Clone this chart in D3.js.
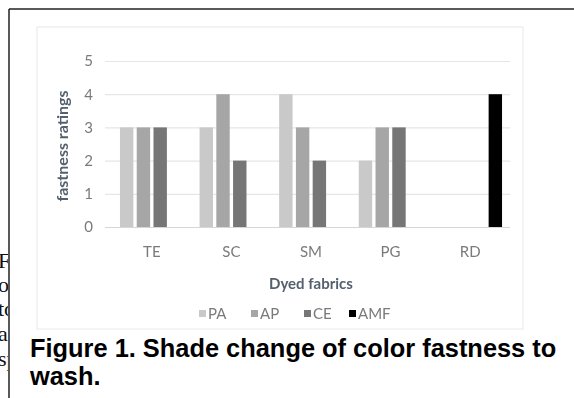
<!DOCTYPE html>
<html>
<head>
<meta charset="utf-8">
<script src="https://cdn.jsdelivr.net/npm/d3@7"></script>
<style>
  html, body { margin: 0; padding: 0; background: #fff; }
  svg { display: block; }
</style>
</head>
<body>
<svg id="fig" width="574" height="398"></svg>
<script>
// Dyed fabrics and the wash fastness rating of each finish
const fabrics = ["TE", "SC", "SM", "PG", "RD"];
const finishes = ["PA", "AP", "CE", "AMF"];
const PA  = [3, 3, 4, 2, 0];
const AP  = [3, 4, 3, 3, 0];
const CE  = [3, 2, 2, 3, 0];
const AMF = [0, 0, 0, 0, 4];
const yTicks = [0, 1, 2, 3, 4, 5];
const finishColors = ["#c9c9c9", "#a6a6a6", "#767676", "#000000"];
const bodyLines = ["F", "o", "to", "a", "sp"];
const captionLines = ["Figure 1. Shade change of color fastness to", "wash."];

const series = [PA, AP, CE, AMF];
const rows = fabrics.map((f, i) => ({ fabric: f, values: finishes.map((s, j) => ({ key: s, value: series[j][i] })) }));

const svg = d3.select("#fig");
const chartFont = "Lato, 'Open Sans', sans-serif";

// soft edge for the embedded chart image
const defs = svg.append("defs");
defs.append("filter").attr("id", "soft")
  .attr("x", "-5%").attr("y", "-5%").attr("width", "110%").attr("height", "110%")
  .append("feGaussianBlur").attr("stdDeviation", 0.6);
defs.append("clipPath").attr("id", "leftcol")
  .append("rect").attr("x", 0).attr("y", 0).attr("width", 8).attr("height", 398);

// page frame
svg.append("line").attr("x1", 9).attr("x2", 574).attr("y1", 9).attr("y2", 9)
  .attr("stroke", "#222").attr("stroke-width", 1.5);
svg.append("line").attr("x1", 9).attr("x2", 9).attr("y1", 9).attr("y2", 398)
  .attr("stroke", "#222").attr("stroke-width", 1.5);

// neighbouring body text, cut by the column edge
const bodyY = [268, 292, 316, 341, 366];
svg.append("g").attr("clip-path", "url(#leftcol)")
  .selectAll("text").data(bodyLines).join("text")
  .attr("x", -2).attr("y", (d, i) => bodyY[i])
  .attr("font-family", "'Liberation Serif', 'DejaVu Serif', serif")
  .attr("font-size", 22).attr("fill", "#111")
  .text(d => d);

const chart = svg.append("g").attr("filter", "url(#soft)");

// chart area outline
chart.append("rect").attr("x", 37).attr("y", 27).attr("width", 486).attr("height", 302)
  .attr("fill", "none").attr("stroke", "#f0f0f0").attr("stroke-width", 1.5);

const x0 = d3.scaleBand().domain(fabrics).range([112, 510]).paddingInner(0.2).paddingOuter(0.1);
const x1 = d3.scaleBand().domain(finishes).range([0, x0.bandwidth()]).paddingInner(0.2);
const y = d3.scaleLinear().domain([0, 5]).range([227, 61]);
const color = d3.scaleOrdinal().domain(finishes).range(finishColors);

// gridlines and value labels
const yAxis = d3.axisLeft(y).tickValues(yTicks).tickFormat(d3.format("d"))
  .tickSize(-(510 - 105)).tickPadding(12);
const gy = chart.append("g").attr("transform", "translate(105,0)").call(yAxis);
gy.select(".domain").remove();
gy.selectAll(".tick line").attr("stroke", d => d === 0 ? "#d6d6d6" : "#e6e6e6").attr("stroke-width", 1.2);
gy.selectAll(".tick text")
  .attr("font-family", chartFont).attr("font-size", 15).attr("fill", "#7a7a7a");

// bars
chart.append("g").selectAll("g").data(rows).join("g")
  .attr("transform", d => `translate(${x0(d.fabric)},0)`)
  .selectAll("rect").data(d => d.values.filter(v => v.value > 0)).join("rect")
  .attr("x", d => x1(d.key))
  .attr("width", x1.bandwidth())
  .attr("y", d => y(d.value))
  .attr("height", d => y(0) - y(d.value))
  .attr("fill", d => color(d.key));

// category axis
const xAxis = d3.axisBottom(x0).tickSize(0).tickPadding(19);
const gx = chart.append("g").attr("transform", "translate(0,227)").call(xAxis);
gx.select(".domain").remove();
gx.selectAll(".tick text")
  .attr("font-family", chartFont).attr("font-size", 15).attr("fill", "#7a7a7a");

// axis titles
chart.append("text")
  .attr("transform", `translate(68,${(y(0) + y(5)) / 2 + 2}) rotate(-90)`)
  .attr("text-anchor", "middle")
  .attr("font-family", chartFont).attr("font-size", 16).attr("font-weight", 700)
  .attr("fill", "#55606e").text("fastness ratings");
chart.append("text")
  .attr("x", (x0.range()[0] + x0.range()[1]) / 2).attr("y", 289)
  .attr("text-anchor", "middle")
  .attr("font-family", chartFont).attr("font-size", 15).attr("font-weight", 700)
  .attr("fill", "#55606e").text("Dyed fabrics");

// legend
const legendX = [199, 251, 304, 349];
const lg = chart.append("g").selectAll("g").data(finishes).join("g")
  .attr("transform", (d, i) => `translate(${legendX[i]},314)`);
lg.append("rect").attr("x", 0).attr("y", -4).attr("width", 7).attr("height", 7).attr("fill", d => color(d));
lg.append("text").attr("x", 9).attr("y", 5)
  .attr("font-family", chartFont).attr("font-size", 15).attr("fill", "#7a7a7a")
  .text(d => d);

// caption
svg.append("g").selectAll("text").data(captionLines).join("text")
  .attr("x", 30).attr("y", (d, i) => 357 + i * 28)
  .attr("font-family", "'Liberation Sans', Arial, sans-serif").attr("font-size", 25.4).attr("font-weight", 700)
  .attr("fill", "#000").text(d => d);
</script>
</body>
</html>
